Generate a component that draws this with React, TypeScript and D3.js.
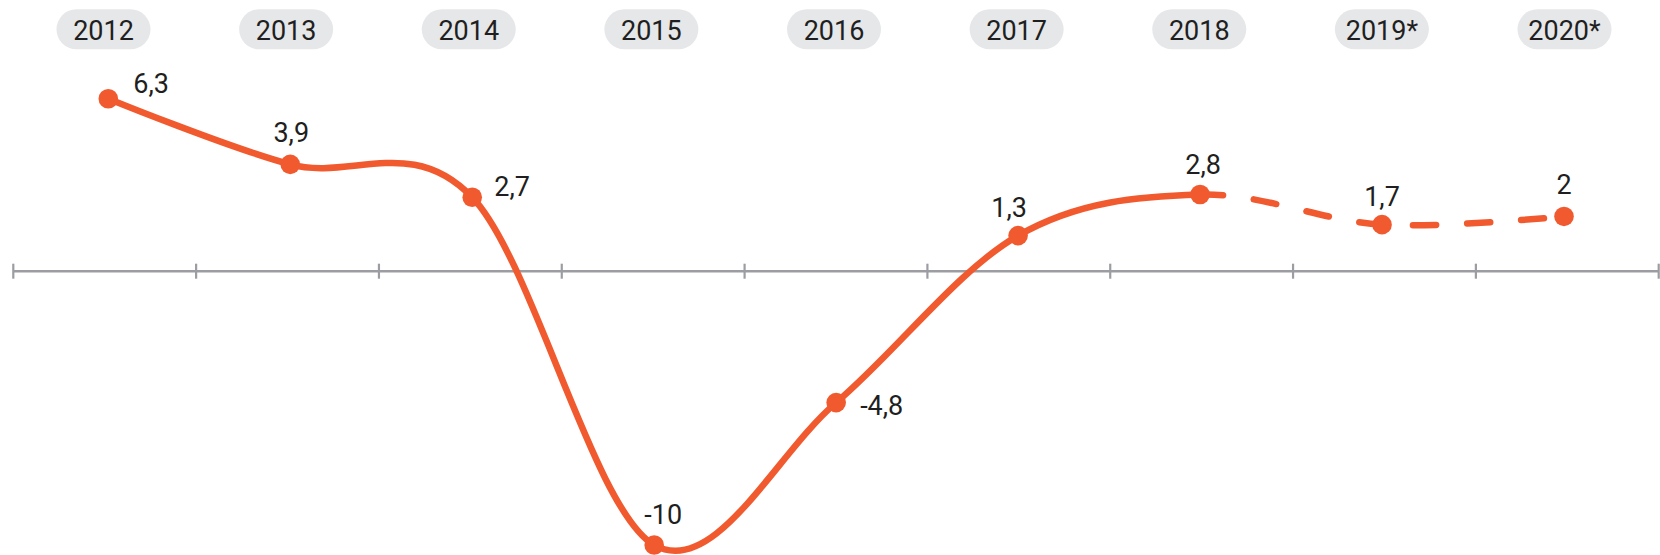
import React from "react";
import * as d3 from "d3";

const years: string[] = ["2012", "2013", "2014", "2015", "2016", "2017", "2018", "2019*", "2020*"];
const values: number[] = [6.3, 3.9, 2.7, -10, -4.8, 1.3, 2.8, 1.7, 2];
const valueLabels: string[] = ["6,3", "3,9", "2,7", "-10", "-4,8", "1,3", "2,8", "1,7", "2"];
// index of the last actual (non-forecast) year: line is dashed after it
const lastActualIndex = 6;
// label placement relative to each point: [anchor, dx, dy]
const labelPlacement: [string, number, number][] = [
  ["start", 25, -6],
  ["middle", 1, -22],
  ["start", 22, -1],
  ["middle", 9, -21],
  ["start", 24, 12],
  ["middle", -9, -19],
  ["middle", 3, -21],
  ["middle", 0, -19],
  ["middle", 0, -22],
];

const W = 1660;
const H = 555;
const ORANGE = "#f15a2f";
const FONT = "Roboto, 'Noto Sans', sans-serif";

export default function App() {
  const y = d3.scaleLinear().domain([-10, 6.3]).range([545, 98.7]);
  const xPoint = d3.scalePoint<string>().domain(years).range([108.3, 1564]);
  const xPill = d3.scalePoint<string>().domain(years).range([103.5, 1564.5]);
  const xBand = d3.scaleBand<string>().domain(years).range([13.3, 1658.7]).padding(0);

  const pts: [number, number][] = years.map((yr, i) => [xPoint(yr) as number, y(values[i])]);
  const line = d3.line().curve(d3.curveCardinal.tension(0));
  const full = line(pts) || "";
  const parts = full.split("C");
  const solidD = parts[0] + parts.slice(1, lastActualIndex + 1).map((s) => "C" + s).join("");
  const p6 = pts[lastActualIndex];
  const dashedD = `M${p6[0]},${p6[1]}` + parts.slice(lastActualIndex + 1).map((s) => "C" + s).join("");

  const axisY = y(0);
  const tickXs = years.map((yr) => xBand(yr) as number).concat([(xBand(years[years.length - 1]) as number) + xBand.bandwidth()]);

  const pillW = 94;
  const pillH = 40;
  const pillTop = 9.3;

  return (
    <svg
      width={W}
      height={H}
      viewBox={`0 0 ${W} ${H}`}
      style={{ position: "absolute", left: 0, top: 0, background: "#fff" }}
    >
      {/* axis */}
      <g stroke="#9c9da2" strokeWidth={2.5}>
        <line x1={tickXs[0]} x2={tickXs[tickXs.length - 1]} y1={axisY} y2={axisY} />
        {tickXs.map((tx, i) => (
          <line key={i} x1={tx} x2={tx} y1={axisY - 7.5} y2={axisY + 7.5} strokeWidth={2.2} />
        ))}
      </g>

      {/* line */}
      <path d={solidD} fill="none" stroke={ORANGE} strokeWidth={6.5} strokeLinecap="round" />
      <path
        d={dashedD}
        fill="none"
        stroke={ORANGE}
        strokeWidth={6.5}
        strokeLinecap="round"
        strokeDasharray="23 31"
      />

      {/* points */}
      {pts.map((p, i) => (
        <circle key={i} cx={p[0]} cy={p[1]} r={9.8} fill={ORANGE} />
      ))}

      {/* value labels */}
      {pts.map((p, i) => {
        const [anchor, dx, dy] = labelPlacement[i];
        return (
          <text
            key={i}
            x={p[0] + dx}
            y={p[1] + dy}
            textAnchor={anchor as any}
            fontFamily={FONT}
            fontSize={27}
            fill="#1f1f22"
          >
            {valueLabels[i]}
          </text>
        );
      })}

      {/* year pills */}
      {years.map((yr) => {
        const cx = xPill(yr) as number;
        return (
          <g key={yr}>
            <rect
              x={cx - pillW / 2}
              y={pillTop}
              width={pillW}
              height={pillH}
              rx={pillH / 2}
              ry={pillH / 2}
              fill="#e6e7e9"
            />
            <text
              x={cx}
              y={pillTop + 30.2}
              textAnchor="middle"
              fontFamily={FONT}
              fontSize={27}
              fill="#1f1f22"
            >
              {yr}
            </text>
          </g>
        );
      })}
    </svg>
  );
}
